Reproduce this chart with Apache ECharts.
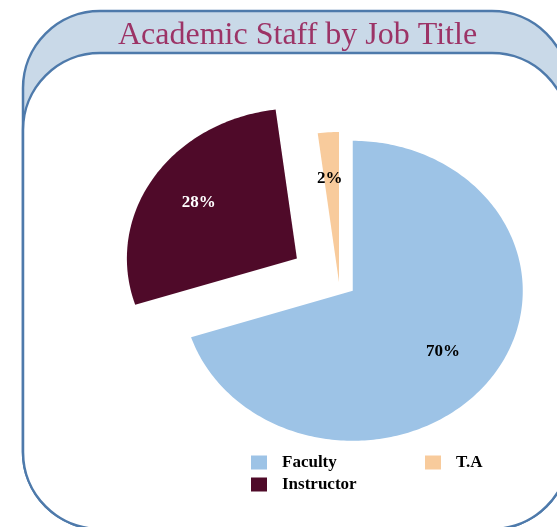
<!DOCTYPE html>
<html><head><meta charset="utf-8">
<script src="https://cdn.jsdelivr.net/npm/echarts@6/dist/echarts.min.js"></script>
<style>html,body{margin:0;padding:0;background:#fff}#c{width:557px;height:527px}</style>
</head><body><div id="c"></div>
<script>
const titleText = 'Academic Staff by Job Title';
const categories = ['Faculty', 'Instructor', 'T.A'];
const values = [70, 28, 2];
const labels = ['70%', '28%', '2%'];

const colors = ['#9dc3e6', '#4f0a29', '#f8cb9c'];
const labelColors = ['#000000', '#ffffff', '#000000'];
const explode = [15, 44, 0];
const SERIF = '"Liberation Serif", "Times New Roman", serif';
const CX = 339, CY = 282, RX = 170, RY = 150;
const total = values.reduce((a, b) => a + b, 0);

function renderSlice(params, api) {
  const i = params.seriesIndex;
  let start = 0;
  for (let k = 0; k < i; k++) start += values[k];
  const v = api.value(0);
  const a0 = start / total * 2 * Math.PI, a1 = (start + v) / total * 2 * Math.PI;
  const mid = (a0 + a1) / 2;
  const ox = CX + explode[i] * Math.sin(mid) * RX / RY;
  const oy = CY - explode[i] * Math.cos(mid);
  const pts = [[ox, oy]];
  const n = Math.max(2, Math.ceil((a1 - a0) / (Math.PI / 180)));
  for (let j = 0; j <= n; j++) {
    const a = a0 + (a1 - a0) * j / n;
    pts.push([ox + RX * Math.sin(a), oy - RY * Math.cos(a)]);
  }
  return {
    type: 'group',
    children: [
      { type: 'polygon', shape: { points: pts }, style: { fill: colors[i] } },
      { type: 'text', x: ox + 0.67 * RX * Math.sin(mid) - 2, y: oy - 0.69 * RY * Math.cos(mid),
        style: { text: labels[i], fill: labelColors[i], font: 'bold 17px ' + SERIF, align: 'center', verticalAlign: 'middle' } }
    ]
  };
}

const legendBase = {
  orient: 'vertical', top: 454, padding: 0, itemWidth: 16, itemHeight: 14, itemGap: 5, icon: 'rect',
  selectedMode: false,
  textStyle: { fontFamily: SERIF, fontWeight: 'bold', fontSize: 17, color: '#000', padding: [0, 0, 0, 10] }
};

const chart = echarts.init(document.getElementById('c'), null, { renderer: 'canvas' });
chart.setOption({
  animation: false,
  backgroundColor: '#ffffff',
  title: {
    text: titleText, left: 113, top: 15,
    textStyle: { fontFamily: SERIF, fontWeight: 'normal', fontSize: 32, color: '#9c3366' }
  },
  graphic: [
    { type: 'rect', z: -10, shape: { x: 23, y: 11, width: 546, height: 518, r: 77 },
      style: { fill: '#c9d9e8', stroke: '#4e7aab', lineWidth: 2.5 } },
    { type: 'rect', z: -9, shape: { x: 23, y: 53, width: 546, height: 476, r: 77 },
      style: { fill: '#ffffff', stroke: '#4e7aab', lineWidth: 2.5 } }
  ],
  legend: [
    Object.assign({}, legendBase, { data: [categories[0], categories[1]], left: 251 }),
    Object.assign({}, legendBase, { data: [categories[2]], left: 425 })
  ],
  series: categories.map((name, i) => ({
    type: 'custom', name: name, coordinateSystem: 'none', silent: true,
    renderItem: renderSlice, data: [[values[i]]], itemStyle: { color: colors[i] }
  }))
});
</script>
</body></html>
